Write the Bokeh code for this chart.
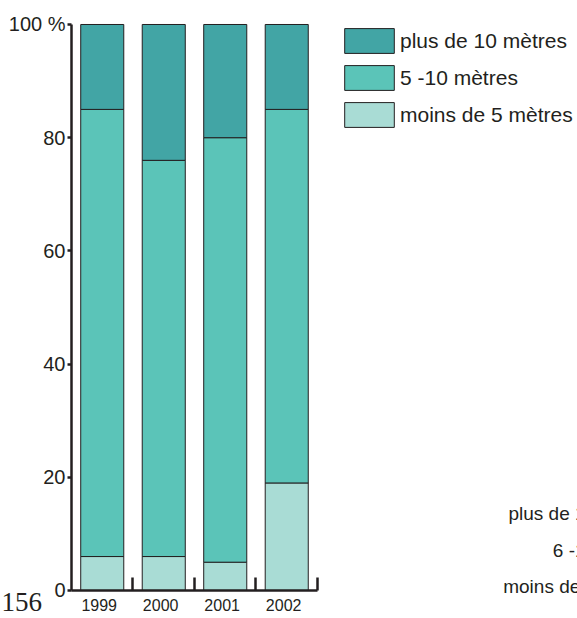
import numpy as np
from bokeh.plotting import figure
from bokeh.models import (ColumnDataSource, Range1d, FixedTicker, LinearAxis,
                          Legend, LegendItem, Label)
from bokeh.embed import file_html
from bokeh.resources import INLINE

# ---- data ----
years = ["1999", "2000", "2001", "2002"]
moins_5 = [6, 6, 5, 19]
de_5_10 = [79, 70, 75, 66]
plus_10 = [15, 24, 20, 15]
series_labels = ["moins de 5 mètres", "5 -10 mètres", "plus de 10 mètres"]
y_ticks = [0, 20, 40, 60, 80, 100]
y_tick_labels = ["0", "20", "40", "60", "80", "100 %"]
ghost_labels = ["plus de 10 mètres", "6 -10 mètres", "moins de 5 mètres"]
page_number = "156"

# ---- style ----
colors = ["#a9dcd5", "#5bc4b8", "#42a5a5"]
ink = "#231f20"
FONT = "Liberation Sans"
label_shift = -0.05  # year labels sit slightly left of bar centres

x = np.arange(len(years)) + 0.5
src = ColumnDataSource(dict(x=x, low=moins_5, mid=de_5_10, high=plus_10))

W, H = 577, 618
p = figure(width=W, height=H, output_backend="svg", toolbar_location=None,
           title=None, x_range=Range1d(-1.1545, 8.228),
           y_range=Range1d(-4.947, 104.24),
           x_axis_type=None, y_axis_type=None, min_border=0,
           min_border_left=0, min_border_right=0, min_border_top=0,
           min_border_bottom=0)
p.outline_line_color = None
p.background_fill_color = "white"
p.border_fill_color = "white"

rs = p.vbar_stack(["low", "mid", "high"], x="x", width=0.7, source=src,
                  fill_color=colors, line_color=ink, line_width=1)

# y axis
yax = LinearAxis(ticker=FixedTicker(ticks=y_ticks), bounds=(0, 100),
                 fixed_location=0,
                 major_label_overrides=dict(zip(y_ticks, y_tick_labels)),
                 axis_line_width=2.5, axis_line_color=ink,
                 major_tick_line_width=2.5, major_tick_line_color=ink,
                 major_tick_in=0, major_tick_out=4,
                 minor_tick_line_color=None, major_label_standoff=2,
                 major_label_text_font_size="20px",
                 major_label_text_font=FONT, major_label_text_color=ink)
p.add_layout(yax, "left")

# x axis
label_pos = [float(xi + label_shift) for xi in x]
xax = LinearAxis(ticker=FixedTicker(ticks=label_pos,
                                    minor_ticks=list(range(1, len(years) + 1))),
                 bounds=(0, len(years)), fixed_location=0,
                 major_label_overrides=dict(zip(label_pos, years)),
                 major_tick_line_color=None, major_tick_in=0, major_tick_out=0,
                 minor_tick_in=13, minor_tick_out=0, minor_tick_line_width=2.5,
                 minor_tick_line_color=ink,
                 axis_line_width=2.5, axis_line_color=ink,
                 major_label_standoff=9, major_label_text_font_size="16px",
                 major_label_text_font=FONT, major_label_text_color=ink)
p.add_layout(xax, "below")

# legend
items = [LegendItem(label=lab, renderers=[r])
         for lab, r in zip(series_labels[::-1], rs[::-1])]
legend = Legend(items=items, location=(338, 488), orientation="vertical",
                glyph_width=62, glyph_height=31, label_height=31, spacing=6,
                padding=0, margin=0, label_standoff=-2,
                border_line_color=None, background_fill_alpha=0,
                label_text_font_size="21px", label_text_font=FONT,
                label_text_color=ink)
p.add_layout(legend)

# cut-off text at bottom right
for i, t in enumerate(ghost_labels):
    p.add_layout(Label(x=659, y=105 - 36.5 * i, x_units="screen", y_units="screen",
                       text=t, text_align="right", text_baseline="middle",
                       text_font=FONT, text_font_size="19px", text_color=ink))

# page number
p.add_layout(Label(x=1, y=17, x_units="screen", y_units="screen",
                   text=page_number, text_align="left",
                   text_baseline="middle", text_font="Liberation Serif",
                   text_font_size="27px", text_color=ink))

open("out.html", "w").write(file_html(p, INLINE))
